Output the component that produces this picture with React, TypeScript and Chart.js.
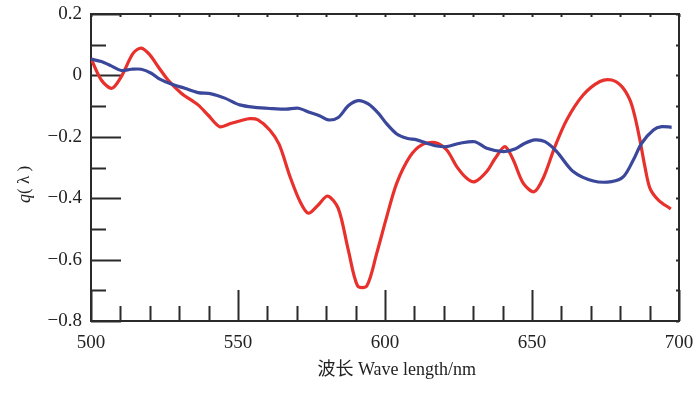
import { useEffect, useRef } from "react";
import { Chart, registerables } from "chart.js";

Chart.register(...registerables);

// Red curve
const redWavelength = [500, 503.5, 507.1, 510.3, 514.3, 517.1, 520.0, 522.8, 526.2, 530.7, 536.4, 539.8, 543.8, 547.7, 551.1, 554.0, 556.8, 560.8, 564.0, 567.7, 571.1, 573.9, 577.3, 580.5, 584.1, 587.5, 590.7, 593.8, 597.2, 600.6, 604.0, 608.5, 612.5, 617.0, 621.0, 624.4, 627.8, 630.6, 634.6, 637.5, 640.8, 643.6, 647.0, 650.7, 653.8, 657.8, 661.8, 667.4, 673.1, 677.1, 680.5, 683.3, 685.0, 686.7, 688.4, 690.1, 693.0, 697.2];
const redQ = [0.055, -0.015, -0.042, -0.004, 0.072, 0.089, 0.067, 0.029, -0.015, -0.058, -0.096, -0.129, -0.167, -0.156, -0.147, -0.141, -0.145, -0.178, -0.225, -0.330, -0.411, -0.449, -0.422, -0.393, -0.433, -0.568, -0.686, -0.686, -0.579, -0.460, -0.351, -0.264, -0.226, -0.219, -0.243, -0.297, -0.335, -0.346, -0.313, -0.27, -0.232, -0.275, -0.351, -0.379, -0.335, -0.232, -0.145, -0.064, -0.020, -0.015, -0.036, -0.080, -0.134, -0.210, -0.297, -0.367, -0.406, -0.435];

// Blue curve
const blueWavelength = [500, 503.5, 506.9, 510.3, 513.7, 517.1, 520.5, 523.4, 527.3, 531.9, 536.4, 540.9, 545.5, 550.6, 555.7, 561.3, 566.4, 570.5, 574.5, 577.9, 580.7, 584.1, 587.5, 590.9, 594.3, 597.7, 600.6, 604.0, 607.4, 610.8, 614.2, 617.6, 621.0, 625.5, 630.6, 634.6, 640.2, 644.2, 647.6, 651.0, 654.4, 658.4, 664.0, 670.9, 677.1, 681.1, 684.5, 687.3, 691.3, 694.1, 697.5];
const blueQ = [0.053, 0.045, 0.031, 0.016, 0.020, 0.020, 0.007, -0.012, -0.028, -0.042, -0.056, -0.060, -0.074, -0.096, -0.104, -0.108, -0.110, -0.107, -0.121, -0.132, -0.145, -0.137, -0.099, -0.082, -0.093, -0.123, -0.158, -0.191, -0.205, -0.210, -0.221, -0.230, -0.232, -0.221, -0.216, -0.237, -0.248, -0.240, -0.221, -0.210, -0.216, -0.248, -0.313, -0.344, -0.346, -0.330, -0.275, -0.221, -0.178, -0.167, -0.169];

const xTickValues = [500, 550, 600, 650, 700];
const yTickValues = [0.2, 0, -0.2, -0.4, -0.6, -0.8];
const xTitle = "波长 Wave length/nm";
const yTitleVar = "q";
const yTitleRest = "( λ )";

const SERIF = '"Liberation Serif", "Times New Roman", "Noto Sans CJK SC", serif';

function fmtY(v: number): string {
  if (Math.abs(v) < 1e-9) return "0";
  return (v < 0 ? "\u2212" : "") + Math.abs(v).toFixed(1);
}

const framePlugin = {
  id: "frame",
  beforeDatasetsDraw(chart: any) {
    const { ctx, chartArea, scales } = chart;
    const { left, right, top, bottom } = chartArea;
    const x = scales.x;
    const y = scales.y;
    ctx.save();
    ctx.strokeStyle = "#2a2a2a";
    ctx.lineWidth = 2;
    ctx.beginPath();
    for (let v = 500; v <= 700; v += 10) {
      const px = Math.round(x.getPixelForValue(v)) + 0.5;
      const len = v % 50 === 0 ? 31 : 15;
      ctx.moveTo(px, bottom);
      ctx.lineTo(px, bottom - len);
      ctx.moveTo(px, top);
      ctx.lineTo(px, top + 3);
    }
    for (let k = -8; k <= 2; k++) {
      const py = Math.round(y.getPixelForValue(k / 10)) + 0.5;
      const len = k % 2 === 0 ? 30 : 15;
      ctx.moveTo(left, py);
      ctx.lineTo(left + len, py);
      ctx.moveTo(right, py);
      ctx.lineTo(right - 3, py);
    }
    ctx.stroke();
    ctx.strokeRect(left, top, right - left, bottom - top);
    ctx.restore();
  },
  afterDraw(chart: any) {
    const { ctx, chartArea } = chart;
    const { left, right, bottom, top } = chartArea;
    ctx.save();
    ctx.fillStyle = "#222";
    ctx.textBaseline = "middle";
    ctx.textAlign = "center";
    ctx.font = `18px ${SERIF}`;
    ctx.fillText(xTitle, left + (right - left) * 0.52, bottom + 49);
    // y title
    ctx.translate(25, top + (bottom - top) * 0.555);
    ctx.rotate(-Math.PI / 2);
    ctx.font = `italic 18px ${SERIF}`;
    const w1 = ctx.measureText(yTitleVar).width;
    ctx.font = `17px ${SERIF}`;
    const w2 = ctx.measureText(yTitleRest).width;
    const start = -(w1 + w2) / 2;
    ctx.textAlign = "left";
    ctx.font = `italic 18px ${SERIF}`;
    ctx.fillText(yTitleVar, start, 0);
    ctx.font = `17px ${SERIF}`;
    ctx.fillText(yTitleRest, start + w1, 0);
    ctx.restore();
  },
};

export default function App() {
  const ref = useRef<HTMLCanvasElement | null>(null);
  useEffect(() => {
    if (!ref.current) return;
    const chart = new Chart(ref.current, {
      type: "line",
      data: {
        datasets: [
          {
            label: "blue",
            data: blueWavelength.map((w, i) => ({ x: w, y: blueQ[i] })),
            borderColor: "#3a479b",
            borderWidth: 3.2,
            pointRadius: 0,
            tension: 0.3,
            fill: false,
          },
          {
            label: "red",
            data: redWavelength.map((w, i) => ({ x: w, y: redQ[i] })),
            borderColor: "#e8312c",
            borderWidth: 3.2,
            pointRadius: 0,
            tension: 0.3,
            fill: false,
          },
        ],
      },
      options: {
        responsive: false,
        animation: false,
        layout: { padding: { left: 0, right: 21, top: 14, bottom: 0 } },
        plugins: { legend: { display: false }, tooltip: { enabled: false }, title: { display: false } },
        scales: {
          x: {
            type: "linear",
            min: 500,
            max: 700,
            afterBuildTicks: (s: any) => {
              s.ticks = xTickValues.map((v) => ({ value: v }));
            },
            afterFit: (s: any) => {
              s.height = 75;
            },
            grid: { display: true, drawOnChartArea: false, drawTicks: true, tickLength: 11, color: "rgba(0,0,0,0)" },
            border: { display: false },
            ticks: {
              color: "#222",
              padding: 0,
              maxRotation: 0,
              font: { family: SERIF, size: 19 },
              callback: (v: any) => String(v),
            },
          },
          y: {
            type: "linear",
            min: -0.8,
            max: 0.2,
            afterBuildTicks: (s: any) => {
              s.ticks = yTickValues.map((v) => ({ value: v }));
            },
            afterFit: (s: any) => {
              s.width = 91;
            },
            grid: { display: true, drawOnChartArea: false, drawTicks: true, tickLength: 9, color: "rgba(0,0,0,0)" },
            border: { display: false },
            ticks: {
              color: "#222",
              padding: 0,
              font: { family: SERIF, size: 19 },
              callback: (v: any) => fmtY(Number(v)),
            },
          },
        },
      },
      plugins: [framePlugin],
    });
    return () => chart.destroy();
  }, []);
  return (
    <div style={{ position: "fixed", left: 0, top: 0, width: 700, height: 396, background: "#fff" }}>
      <canvas ref={ref} width={700} height={396} style={{ width: 700, height: 396, display: "block" }} />
    </div>
  );
}
